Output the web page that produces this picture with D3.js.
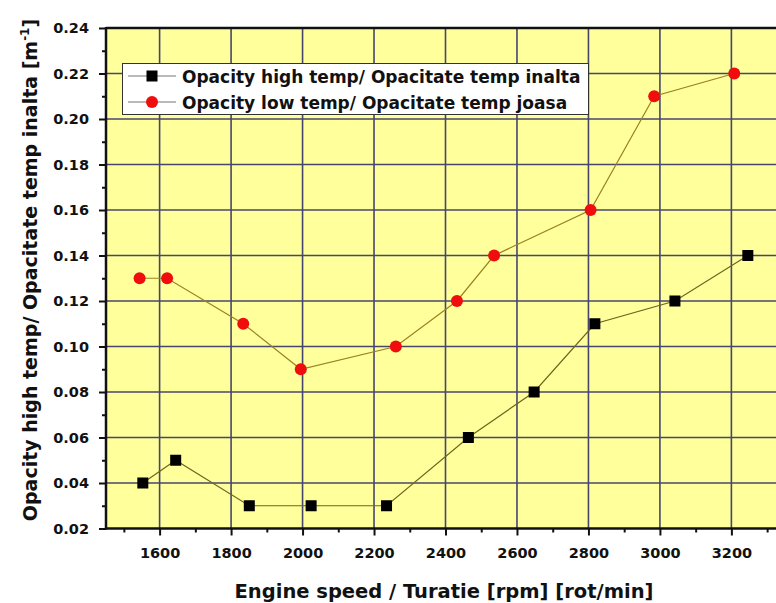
<!DOCTYPE html>
<html lang="en">
<head>
<meta charset="utf-8">
<title>Opacity vs engine speed</title>
<style>
  body { margin: 0; background: #fff; }
  svg { display: block; font-family: "DejaVu Sans", Arial, sans-serif; }
</style>
<script src="https://d3js.org/d3.v7.min.js"></script>
</head>
<body>
<script>
// data
var highRpm = [1553, 1645, 1851, 2024, 2235, 2464, 2648, 2818, 3042, 3246];
var highOpacity = [0.04, 0.05, 0.03, 0.03, 0.03, 0.06, 0.08, 0.11, 0.12, 0.14];
var lowRpm = [1544, 1621, 1834, 1995, 2261, 2432, 2536, 2806, 2984, 3208];
var lowOpacity = [0.13, 0.13, 0.11, 0.09, 0.10, 0.12, 0.14, 0.16, 0.21, 0.22];
var xTicks = [1600, 1800, 2000, 2200, 2400, 2600, 2800, 3000, 3200];
var yTicks = [0.02, 0.04, 0.06, 0.08, 0.10, 0.12, 0.14, 0.16, 0.18, 0.20, 0.22, 0.24];
var legendLabels = ["Opacity high temp/ Opacitate temp inalta", "Opacity low temp/ Opacitate temp joasa"];

var w = 776, h = 603;
var pLeft = 106, pTop = 28, pBottom = 528.5, pRight = 785;

var svg = d3.select("body").append("svg")
    .attr("width", w).attr("height", h);

var x = d3.scaleLinear().domain([1450, 3350]).range([pLeft, pRight]);
var y = d3.scaleLinear().domain([0.02, 0.24]).range([pBottom, pTop]);

// plot background
svg.append("rect")
   .attr("x", pLeft).attr("y", pTop)
   .attr("width", pRight - pLeft).attr("height", pBottom - pTop)
   .attr("fill", "#ffff9c");

// grid
var grid = svg.append("g").attr("stroke", "#46466e").attr("stroke-width", 1.6);
grid.selectAll("line.vx").data(xTicks).enter().append("line")
    .attr("x1", function (d) { return x(d); }).attr("x2", function (d) { return x(d); })
    .attr("y1", pTop).attr("y2", pBottom);
grid.selectAll("line.hy").data(yTicks.slice(1)).enter().append("line")
    .attr("x1", pLeft).attr("x2", pRight)
    .attr("y1", function (d) { return y(d); }).attr("y2", function (d) { return y(d); });

// axes
var xAxis = svg.append("g")
    .attr("transform", "translate(0," + pBottom + ")")
    .call(d3.axisBottom(x).tickValues(xTicks).tickSize(7).tickPadding(12)
          .tickFormat(d3.format("d")));
var xMinor = svg.append("g")
    .attr("transform", "translate(0," + pBottom + ")")
    .call(d3.axisBottom(x).tickValues(d3.range(1500, 3400, 200)).tickSize(4).tickFormat(""));
var yAxis = svg.append("g")
    .attr("transform", "translate(" + pLeft + ",0)")
    .call(d3.axisLeft(y).tickValues(yTicks).tickSize(7).tickPadding(10)
          .tickFormat(d3.format(".2f")));
var yMinor = svg.append("g")
    .attr("transform", "translate(" + pLeft + ",0)")
    .call(d3.axisLeft(y).tickValues(d3.range(0.03, 0.24, 0.02)).tickSize(4).tickFormat(""));

[xAxis, xMinor, yAxis, yMinor].forEach(function (a) {
  a.attr("font-family", null);
  a.select(".domain").remove();
  a.selectAll("line").attr("stroke", "#111").attr("stroke-width", 2);
  a.selectAll("text").attr("fill", "#111")
   .style("font-family", "'DejaVu Sans', sans-serif")
   .style("font-size", "14.5px").style("font-weight", "bold");
});

// frame
svg.append("line").attr("x1", pLeft).attr("x2", pLeft).attr("y1", pTop - 1).attr("y2", pBottom + 1)
   .attr("stroke", "#111").attr("stroke-width", 2.5);
svg.append("line").attr("x1", pLeft).attr("x2", pRight).attr("y1", pBottom).attr("y2", pBottom)
   .attr("stroke", "#111").attr("stroke-width", 2.5);
svg.append("line").attr("x1", pLeft).attr("x2", pRight).attr("y1", pTop).attr("y2", pTop)
   .attr("stroke", "#111").attr("stroke-width", 2.5);

// series
var line = d3.line()
    .x(function (d) { return x(d[0]); })
    .y(function (d) { return y(d[1]); });
var highData = d3.zip(highRpm, highOpacity);
var lowData = d3.zip(lowRpm, lowOpacity);

svg.append("path").datum(highData).attr("d", line)
   .attr("fill", "none").attr("stroke", "#6f6420").attr("stroke-width", 1.2);
svg.append("path").datum(lowData).attr("d", line)
   .attr("fill", "none").attr("stroke", "#9a8224").attr("stroke-width", 1.2);

svg.selectAll("rect.high").data(highData).enter().append("rect")
   .attr("x", function (d) { return x(d[0]) - 5.5; })
   .attr("y", function (d) { return y(d[1]) - 5.5; })
   .attr("width", 11).attr("height", 11)
   .attr("fill", "#000");
svg.selectAll("circle.low").data(lowData).enter().append("circle")
   .attr("cx", function (d) { return x(d[0]); })
   .attr("cy", function (d) { return y(d[1]); })
   .attr("r", 6)
   .attr("fill", "#f00d0d");

// legend
var lg = svg.append("g");
lg.append("rect").attr("x", 122.5).attr("y", 63.5).attr("width", 466).attr("height", 51)
  .attr("fill", "#fff").attr("stroke", "#333").attr("stroke-width", 1);
legendLabels.forEach(function (t, i) {
  var cy = 76 + i * 26;
  lg.append("line").attr("x1", 128).attr("x2", 176).attr("y1", cy).attr("y2", cy)
    .attr("stroke", "#777").attr("stroke-width", 1.2);
  if (i === 0) {
    lg.append("rect").attr("x", 146.5).attr("y", cy - 5.5).attr("width", 11).attr("height", 11).attr("fill", "#000");
  } else {
    lg.append("circle").attr("cx", 152).attr("cy", cy).attr("r", 6).attr("fill", "#f00d0d");
  }
  lg.append("text").attr("x", 182).attr("y", cy + 6.5)
    .style("font-size", "17px").style("font-weight", "bold").attr("fill", "#111")
    .text(t);
});

// axis titles
svg.append("text")
   .attr("x", 444).attr("y", 598)
   .attr("text-anchor", "middle")
   .style("font-size", "19.5px").style("font-weight", "bold").attr("fill", "#111")
   .text("Engine speed / Turatie [rpm] [rot/min]");

var yt = svg.append("text")
   .attr("transform", "translate(37,270) rotate(-90)")
   .attr("text-anchor", "middle")
   .style("font-size", "19px").style("font-weight", "bold").attr("fill", "#111");
yt.append("tspan").text("Opacity high temp/ Opacitate temp inalta [m");
yt.append("tspan").attr("dy", -8).style("font-size", "12px").text("-1");
yt.append("tspan").attr("dy", 8).text("]");
</script>
</body>
</html>
